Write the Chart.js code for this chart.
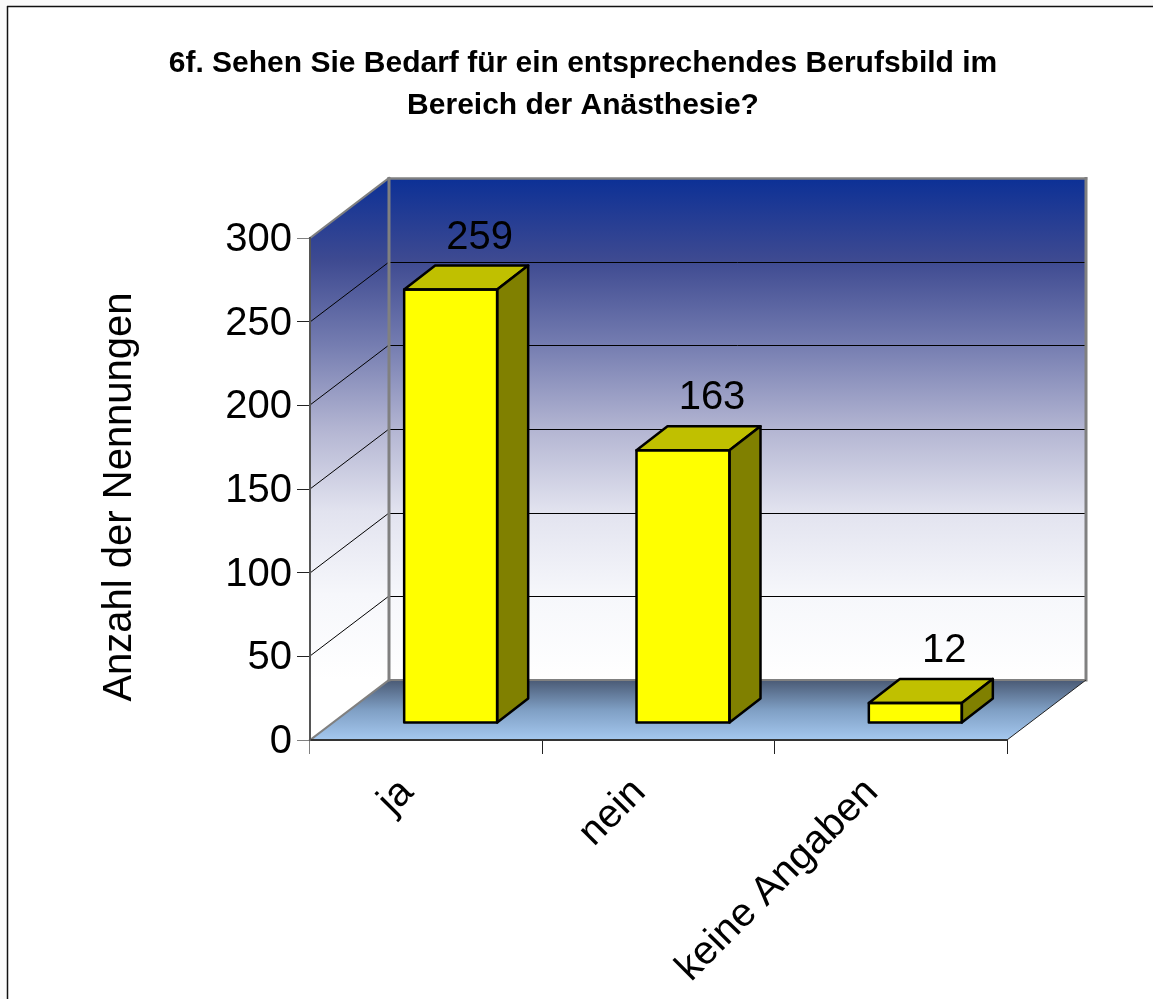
<!DOCTYPE html>
<html>
<head>
<meta charset="utf-8">
<title>6f. Berufsbild Anästhesie</title>
<script src="https://cdn.jsdelivr.net/npm/chart.js@4"></script>
<style>
  body { margin: 0; background: #fff; }
  canvas { display: block; }
</style>
</head>
<body>
<canvas id="chart" width="1153" height="999"></canvas>
<script>
// data
const categories = ["ja", "nein", "keine Angaben"];
const answers = [259, 163, 12];
const yTicks = [0, 50, 100, 150, 200, 250, 300];
const titleLines = ["6f. Sehen Sie Bedarf für ein entsprechendes Berufsbild im", "Bereich der Anästhesie?"];
const yTitle = "Anzahl der Nennungen";

const font = "'Liberation Sans', Arial, sans-serif";

// depth of the fake 3d box and of the bars
const wallDx = 79, wallDy = -60;
const barShiftX = 24.5, barShiftY = -17;
const barDx = 31, barDy = -24;

function poly(ctx, pts, fill, stroke, lw) {
  ctx.beginPath();
  pts.forEach((p, i) => (i ? ctx.lineTo(p[0], p[1]) : ctx.moveTo(p[0], p[1])));
  ctx.closePath();
  if (fill) {
    ctx.fillStyle = fill;
    ctx.fill();
  }
  if (stroke) {
    ctx.strokeStyle = stroke;
    ctx.lineWidth = lw;
    ctx.lineJoin = "round";
    ctx.stroke();
  }
}

function line(ctx, x1, y1, x2, y2, color, lw) {
  ctx.beginPath();
  ctx.moveTo(x1, y1);
  ctx.lineTo(x2, y2);
  ctx.strokeStyle = color;
  ctx.lineWidth = lw;
  ctx.stroke();
}

// same blue to white fade on both walls
function wallGradient(ctx, y1, y2) {
  const grad = ctx.createLinearGradient(0, y1, 0, y2);
  grad.addColorStop(0, "#0c3096");
  grad.addColorStop(0.164, "#3e4a91");
  grad.addColorStop(0.33, "#747cb0");
  grad.addColorStop(0.5, "#b3b5d2");
  grad.addColorStop(0.665, "#e2e3ef");
  grad.addColorStop(0.83, "#f6f7fb");
  grad.addColorStop(1, "#ffffff");
  return grad;
}

// walls, floor and grid, behind everything
const boxPlugin = {
  id: "box3d",
  beforeDraw(chart) {
    const { ctx, chartArea: a, scales } = chart;
    const l = a.left, r = a.right, t = a.top, b = a.bottom;
    const w = chart.width, h = chart.height;
    ctx.save();

    // page frame
    ctx.fillStyle = "#fafafa";
    ctx.fillRect(0, 0, w, h);
    ctx.fillStyle = "#fff";
    ctx.fillRect(7, 6, w - 7, h - 6);
    line(ctx, 7, 6.5, w, 6.5, "#111", 1.5);
    line(ctx, 7.5, 6, 7.5, h, "#111", 1.5);

    poly(ctx, [[l, t], [l + wallDx, t + wallDy], [l + wallDx, b + wallDy], [l, b]], wallGradient(ctx, t + wallDy, b + wallDy));
    poly(ctx, [[l + wallDx, t + wallDy], [r + wallDx, t + wallDy], [r + wallDx, b + wallDy], [l + wallDx, b + wallDy]], wallGradient(ctx, t + wallDy, b + wallDy));

    const floorGrad = ctx.createLinearGradient(0, b + wallDy, 0, b);
    floorGrad.addColorStop(0, "#4a5a75");
    floorGrad.addColorStop(0.5, "#7f9fc4");
    floorGrad.addColorStop(1, "#a5c8ef");
    poly(ctx, [[l + wallDx, b + wallDy], [r + wallDx, b + wallDy], [r, b], [l, b]], floorGrad);

    // grid lines on left and back wall
    yTicks.forEach((v) => {
      if (v === 0 || v === 300) return;
      const y = Math.round(scales.y.getPixelForValue(v));
      line(ctx, l, y, l + wallDx, y + wallDy, "#000", 1);
      line(ctx, l + wallDx, y + wallDy + 0.5, r + wallDx, y + wallDy + 0.5, "#000", 1);
    });

    // grey edges of the box
    const edgeTop = t + wallDy + 0.5;
    ctx.lineCap = "square";
    line(ctx, l + wallDx, edgeTop, l + wallDx, b + wallDy, "#808080", 3);
    line(ctx, l + wallDx, edgeTop, r + wallDx, edgeTop, "#808080", 2.5);
    line(ctx, r + wallDx, edgeTop, r + wallDx, b + wallDy, "#808080", 3);
    line(ctx, l + wallDx, b + wallDy, r + wallDx, b + wallDy, "#808080", 2);
    line(ctx, l, t, l + wallDx, t + wallDy, "#808080", 2);
    line(ctx, l, b, l + wallDx, b + wallDy, "#808080", 2);
    ctx.lineCap = "butt";
    line(ctx, r, b, r + wallDx, b + wallDy, "#222", 1);
    ctx.restore();
  },
  beforeDatasetsDraw(chart) {
    chart.ctx.save();
    chart.ctx.translate(barShiftX, barShiftY);
  },
  afterDatasetsDraw(chart) {
    const { ctx } = chart;
    chart.getDatasetMeta(0).data.forEach((bar, i) => {
      const x1 = bar.x - bar.width / 2, x2 = bar.x + bar.width / 2;
      const top = bar.y, base = bar.base;
      // top face
      poly(ctx, [[x1, top], [x1 + barDx, top + barDy], [x2 + barDx, top + barDy], [x2, top]], "#c0c000", "#000", 2.5);
      // side face
      poly(ctx, [[x2, top], [x2 + barDx, top + barDy], [x2 + barDx, base + barDy], [x2, base]], "#808000", "#000", 2.5);
      // outline of the front face
      poly(ctx, [[x1, top], [x2, top], [x2, base], [x1, base]], null, "#000", 2.5);
      // value label
      ctx.fillStyle = "#000";
      ctx.font = "40px " + font;
      ctx.textAlign = "center";
      ctx.textBaseline = "middle";
      ctx.fillText(String(answers[i]), bar.x + 29, top - 52);
    });
    ctx.restore();
  },
  afterDraw(chart) {
    const { ctx } = chart;
    ctx.save();
    ctx.translate(120, 497);
    ctx.rotate(-Math.PI / 2);
    ctx.fillStyle = "#000";
    ctx.font = "40px " + font;
    ctx.textAlign = "center";
    ctx.textBaseline = "middle";
    ctx.fillText(yTitle, 0, 0);
    ctx.restore();
  },
};

new Chart(document.getElementById("chart"), {
  type: "bar",
  data: {
    labels: categories,
    datasets: [
      {
        data: answers,
        backgroundColor: "#ffff00",
        borderWidth: 0,
        barThickness: 93,
        clip: false,
      },
    ],
  },
  options: {
    responsive: false,
    animation: false,
    layout: { padding: { left: 159, right: 146, top: 0, bottom: 0 } },
    plugins: {
      legend: { display: false },
      tooltip: { enabled: false },
      title: {
        display: true,
        text: titleLines,
        color: "#000",
        font: { family: font, size: 30, weight: "bold", lineHeight: "42px" },
        padding: { top: 43, bottom: 111 },
      },
    },
    scales: {
      x: {
        afterFit(scale) {
          scale.height = 259;
        },
        grid: {
          drawOnChartArea: false,
          tickLength: 14,
          offset: true,
          tickColor: (c) => (c.index === 0 ? "#808080" : "#222"),
        },
        border: { color: "#333", width: 2 },
        ticks: {
          color: "#000",
          font: { family: font, size: 40 },
          maxRotation: 45,
          minRotation: 45,
          padding: 15,
          labelOffset: -19,
        },
      },
      y: {
        min: 0,
        max: 300,
        afterFit(scale) {
          scale.width = 151;
        },
        afterBuildTicks(scale) {
          scale.ticks = yTicks.map((v) => ({ value: v }));
        },
        grid: {
          drawOnChartArea: false,
          tickLength: 13,
          tickColor: (c) => (c.tick && (c.tick.value === 0 || c.tick.value === 300) ? "#808080" : "#222"),
        },
        border: { color: "#555", width: 2 },
        ticks: {
          color: "#000",
          font: { family: font, size: 40 },
          padding: 5,
          labelOffset: 2,
        },
      },
    },
  },
  plugins: [boxPlugin],
});
</script>
</body>
</html>
